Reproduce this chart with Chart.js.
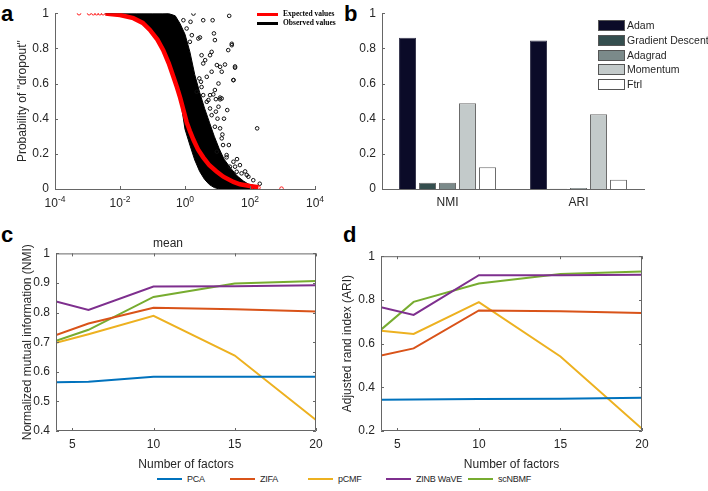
<!DOCTYPE html>
<html lang="en">
<head>
<meta charset="utf-8">
<title>dropout / optimizers / NMI / ARI</title>
<script src="https://cdn.jsdelivr.net/npm/chart.js@4.4.1/dist/chart.umd.min.js"></script>
<style>
  html, body { margin: 0; padding: 0; background: #fff; }
  body { width: 708px; height: 491px; position: relative; overflow: hidden;
         font-family: "Liberation Sans", Arial, sans-serif; color: #262626; }
  canvas { position: absolute; }
  .letra { position: absolute; font-weight: bold; font-size: 22px; line-height: 1; color: #000; }
  .leyenda-a { position: absolute; font-family: "Liberation Serif", serif; font-weight: bold;
               font-size: 7.5px; line-height: 1; color: #000; white-space: nowrap; }
  .leyenda-a span.linea { position: absolute; width: 21px; height: 3px; }
  .leyenda-b { position: absolute; font-size: 10.5px; line-height: 1; white-space: nowrap; }
  .leyenda-b span.caja { position: absolute; width: 25px; height: 9px; border: 1px solid #555; }
  .leyenda-c { position: absolute; font-size: 9px; letter-spacing: -0.25px; line-height: 1; white-space: nowrap; }
  .leyenda-c span.linea { position: absolute; width: 25px; height: 2px; }
</style>
</head>
<body>

<div class="letra" style="left:1px;top:3px">a</div>
<div class="letra" style="left:344px;top:3px">b</div>
<div class="letra" style="left:1px;top:224px">c</div>
<div class="letra" style="left:343px;top:224px">d</div>

<canvas id="chart_a" width="325" height="215" style="left:15px;top:0"></canvas>
<canvas id="chart_b" width="354" height="215" style="left:354px;top:0"></canvas>
<canvas id="chart_c" width="320" height="236" style="left:20px;top:236px"></canvas>
<canvas id="chart_d" width="320" height="229" style="left:340px;top:243px"></canvas>

<div id="leyenda_a"></div>
<div id="leyenda_b"></div>
<div id="leyenda_c"></div>

<script>
// ---- panel a: probabilidad de dropout (x en log10) ----
const ticksXa = [1e-4, 1e-2, 1, 1e2, 1e4];
const exponentesXa = ['-4', '-2', '0', '2', '4'];
const ticksYa = [0, 0.2, 0.4, 0.6, 0.8, 1];

// curva esperada (log10 de la media, probabilidad)
const esperadoLog = [-2.45, -2.31, -2.0, -1.59, -1.3, -1.08, -0.85, -0.67, -0.5, -0.36, -0.25, -0.15,
                     -0.05, 0.05, 0.15, 0.26, 0.4, 0.56, 0.75, 0.97, 1.18, 1.49, 1.69, 2.0, 2.26];
const esperadoProb = [0.998, 0.996, 0.99, 0.972, 0.945, 0.905, 0.85, 0.79, 0.715, 0.64, 0.58, 0.52,
                      0.45, 0.38, 0.33, 0.28, 0.225, 0.18, 0.135, 0.10, 0.07, 0.04, 0.027, 0.017, 0.01];
// circulos rojos sueltos
const sueltosLog = [-3.26, -2.95, -2.82, -2.72, -2.62, -2.52, 2.05, 2.26, 2.97];
const sueltosProb = [1, 1, 1, 1, 1, 1, 0.012, 0.008, 0.002];

// banda densa de valores observados: borde superior e inferior
const bandaLog = [-2.45, -2.0, -1.5, -1.0, -0.7, -0.5, -0.3, -0.15, 0.0, 0.15, 0.3, 0.45,
                  0.6, 0.75, 0.9, 1.05, 1.2, 1.4, 1.6, 1.8, 2.0, 2.15, 2.25];
const bandaSup = [0.997, 1.0, 1.0, 1.0, 1.0, 0.998, 0.985, 0.94, 0.88, 0.78, 0.65, 0.55,
                  0.46, 0.38, 0.30, 0.23, 0.17, 0.12, 0.075, 0.045, 0.022, 0.008, 0.0];
const bandaInf = [0.997, 0.99, 0.965, 0.89, 0.80, 0.715, 0.61, 0.52, 0.34, 0.25, 0.165, 0.10,
                  0.055, 0.025, 0.008, 0, 0, 0, 0, 0, 0, 0, 0];

// observados dispersos fuera de la banda
const dispersosLog = [0.26, 0.56, 0.85, 1.36, 0.17, -0.05, 0.05, 0.21, 0.41, 0.89, 0.92, 0.46, 0.15, 1.33, 1.44,
                      0.82, 0.77, 0.51, 0.62, 0.56, 0.98, 1.08, 1.23, 1.54, 1.13, 0.82, 0.67, 0.44, 0.49, 1.03,
                      1.49, 0.92, 0.77, 0.87, 0.56, 1.08, 0.67, 0.51, 0.36, 0.72, 0.95, 1.13, 1.30, 1.03, 0.77,
                      0.82, 1.08, 0.92, 1.13, 1.28, 0.98, 1.49, 1.69, 1.90, 1.59, 1.38, 2.22, 1.44, 1.54, 1.49,
                      1.08, 1.17, 1.28, 1.54, 1.74, 1.95, 1.2, 1.0, 1.35, 1.6, 1.85, 2.1, 1.15, 2.3, 0.95];
const dispersosProb = [0.998, 0.96, 0.96, 0.985, 0.951, 0.96, 0.913, 0.875, 0.856, 0.885, 0.847, 0.862, 0.837, 0.79, 0.818,
                       0.78, 0.761, 0.761, 0.733, 0.714, 0.705, 0.695, 0.708, 0.69, 0.667, 0.667, 0.638, 0.629, 0.61, 0.60,
                       0.619, 0.563, 0.534, 0.538, 0.534, 0.51, 0.496, 0.58, 0.553, 0.506, 0.511, 0.515, 0.449, 0.468, 0.458,
                       0.42, 0.345, 0.354, 0.288, 0.193, 0.212, 0.155, 0.136, 0.08, 0.098, 0.127, 0.345, 0.826, 0.697, 0.62,
                       0.52, 0.25, 0.18, 0.127, 0.089, 0.07, 0.40, 0.40, 0.25, 0.17, 0.10, 0.05, 0.31, 0.03, 0.44];

// ---- panel b: optimizadores ----
const metricas = ['NMI', 'ARI'];
const optimizadores = ['Adam', 'Gradient Descent', 'Adagrad', 'Momentum', 'Ftrl'];
const valAdam = [0.86, 0.845];
const valGradiente = [0.035, 0.001];
const valAdagrad = [0.035, 0.005];
const valMomentum = [0.488, 0.425];
const valFtrl = [0.124, 0.052];
const ticksYb = [0, 0.2, 0.4, 0.6, 0.8, 1];

// ---- paneles c y d: numero de factores ----
const factores = [4, 6, 10, 15, 20];
const ticksXcd = [5, 10, 15, 20];
const ticksYc = [0.4, 0.5, 0.6, 0.7, 0.8, 0.9, 1];
const ticksYd = [0.2, 0.4, 0.6, 0.8, 1];
const metodos = ['PCA', 'ZIFA', 'pCMF', 'ZINB WaVE', 'scNBMF'];

const nmiPCA = [0.565, 0.566, 0.583, 0.583, 0.583];
const nmiZIFA = [0.724, 0.763, 0.816, 0.811, 0.804];
const nmiPCMF = [0.698, 0.727, 0.789, 0.655, 0.437];
const nmiZINB = [0.838, 0.809, 0.888, 0.889, 0.892];
const nmiSCNBMF = [0.705, 0.742, 0.853, 0.898, 0.907];

const ariPCA = [0.343, 0.344, 0.347, 0.348, 0.352];
const ariZIFA = [0.545, 0.578, 0.752, 0.748, 0.740];
const ariPCMF = [0.659, 0.644, 0.790, 0.541, 0.210];
const ariZINB = [0.766, 0.731, 0.913, 0.913, 0.915];
const ariSCNBMF = [0.664, 0.791, 0.875, 0.918, 0.930];

const coloresMetodos = ['#0072BD', '#D95319', '#EDB120', '#7E2F8E', '#77AC30'];
const coloresOpt = ['#0b0b28', '#344e4e', '#7b8a8a', '#c3caca', '#ffffff'];

const TINTA = '#262626';
const EJE = '#666666';
const FUENTE = '"Liberation Sans", Arial, sans-serif';

Chart.defaults.font.family = FUENTE;
Chart.defaults.font.size = 12;
Chart.defaults.color = TINTA;
Chart.defaults.animation = false;

document.addEventListener('DOMContentLoaded', () => {
    graficaDropout();
    graficaOptimizadores();
    graficaFactores('chart_c', [nmiPCA, nmiZIFA, nmiPCMF, nmiZINB, nmiSCNBMF], ticksYc,
        'Normalized mutual information (NMI)', 'mean', 36, 24, 0);
    graficaFactores('chart_d', [ariPCA, ariZIFA, ariPCMF, ariZINB, ariSCNBMF], ticksYd,
        'Adjusted rand index (ARI)', null, 41, 18, 10);
    leyendas();
});

function puntos(logs, vals) {
    return logs.map((l, i) => ({ x: Math.pow(10, l), y: vals[i] }));
}

function fijarTicks(lista) {
    return s => { s.ticks = lista.map(v => ({ value: v })); };
}

const textoTick = v => String(v);

// marcas de tick hacia dentro, estilo matlab
const marcasPlugin = {
    id: 'marcas',
    afterDatasetsDraw(chart, args, opts) {
        const { ctx, chartArea: a, scales } = chart;
        ctx.save();
        ctx.strokeStyle = EJE;
        ctx.lineWidth = 1;
        ctx.beginPath();
        if (opts.caja) {
            ctx.rect(a.left + 0.5, a.top + 0.5, a.right - a.left - 1, a.bottom - a.top - 1);
        }
        if (opts.x) {
            scales.x.ticks.forEach(t => {
                const px = Math.round(scales.x.getPixelForValue(t.value)) + 0.5;
                ctx.moveTo(px, a.bottom); ctx.lineTo(px, a.bottom - 3);
                if (opts.caja) { ctx.moveTo(px, a.top); ctx.lineTo(px, a.top + 3); }
            });
        }
        if (opts.y) {
            scales.y.ticks.forEach(t => {
                const py = Math.round(scales.y.getPixelForValue(t.value)) + 0.5;
                ctx.moveTo(a.left, py); ctx.lineTo(a.left + 3, py);
                if (opts.caja) { ctx.moveTo(a.right, py); ctx.lineTo(a.right - 3, py); }
            });
        }
        ctx.stroke();
        ctx.restore();
    }
};

// etiquetas 10^n con exponente elevado
const potenciasPlugin = {
    id: 'potencias',
    afterDraw(chart) {
        const { ctx, chartArea: a, scales: { x } } = chart;
        ctx.save();
        ctx.fillStyle = TINTA;
        ctx.textBaseline = 'alphabetic';
        ctx.textAlign = 'left';
        ticksXa.forEach((v, i) => {
            const px = x.getPixelForValue(v);
            ctx.font = '12px ' + FUENTE;
            const w1 = ctx.measureText('10').width;
            ctx.font = '8.5px ' + FUENTE;
            const w2 = ctx.measureText(exponentesXa[i]).width;
            const x0 = px - (w1 + w2) / 2;
            ctx.font = '12px ' + FUENTE;
            ctx.fillText('10', x0, a.bottom + 18);
            ctx.font = '8.5px ' + FUENTE;
            ctx.fillText(exponentesXa[i], x0 + w1, a.bottom + 12.5);
        });
        ctx.restore();
    }
};

// grafica a
function graficaDropout() {
    const canvas = document.getElementById('chart_a');
    if (!canvas) return;

    new Chart(canvas, {
        type: 'scatter',
        data: {
            datasets: [
                {
                    label: 'Expected values',
                    data: puntos(esperadoLog, esperadoProb),
                    showLine: true, borderColor: '#ff0000', borderWidth: 4.5,
                    pointRadius: 0, tension: 0, order: 0
                },
                {
                    label: 'sueltos',
                    data: puntos(sueltosLog, sueltosProb),
                    pointRadius: 1.8, borderWidth: 1, borderColor: '#ff2020',
                    backgroundColor: 'rgba(0,0,0,0)', order: 1
                },
                {
                    label: 'Observed values',
                    data: puntos(dispersosLog, dispersosProb),
                    pointRadius: 1.8, borderWidth: 1, borderColor: '#111',
                    backgroundColor: 'rgba(0,0,0,0)', order: 2
                },
                {
                    label: 'banda inf',
                    data: puntos(bandaLog, bandaInf),
                    showLine: true, borderColor: '#000', borderWidth: 1,
                    pointRadius: 0, tension: 0, order: 3
                },
                {
                    label: 'banda sup',
                    data: puntos(bandaLog, bandaSup),
                    showLine: true, borderColor: '#000', borderWidth: 1,
                    pointRadius: 0, tension: 0, fill: '-1', backgroundColor: '#000', order: 4
                }
            ]
        },
        options: {
            responsive: false,
            layout: { padding: { top: 13, right: 25, bottom: 0, left: 0 } },
            plugins: { legend: { display: false }, tooltip: { enabled: false }, marcas: { x: true, y: true } },
            scales: {
                x: {
                    type: 'logarithmic', min: 1e-4, max: 1e4,
                    afterBuildTicks: fijarTicks(ticksXa),
                    afterFit: s => { s.height = 26; },
                    grid: { display: false, drawTicks: false },
                    border: { color: EJE },
                    ticks: { padding: 5, maxRotation: 0, autoSkip: false, callback: () => '' }
                },
                y: {
                    min: 0, max: 1,
                    afterBuildTicks: fijarTicks(ticksYa),
                    afterFit: s => { s.width = 40; },
                    grid: { display: false, drawTicks: false },
                    border: { color: EJE },
                    ticks: { padding: 6, callback: textoTick },
                    title: { display: true, text: 'Probability of "dropout"', padding: 0, font: { size: 12 } }
                }
            }
        },
        plugins: [marcasPlugin, potenciasPlugin]
    });
}

// grafica b
function graficaOptimizadores() {
    const canvas = document.getElementById('chart_b');
    if (!canvas) return;

    const valores = [valAdam, valGradiente, valAdagrad, valMomentum, valFtrl];
    new Chart(canvas, {
        type: 'bar',
        data: {
            labels: metricas,
            datasets: optimizadores.map((nombre, i) => ({
                label: nombre,
                data: valores[i],
                backgroundColor: coloresOpt[i],
                borderColor: i === 0 ? '#3a3a50' : '#6a6a6a',
                borderWidth: 1,
                categoryPercentage: 0.763,
                barPercentage: 0.85
            }))
        },
        options: {
            responsive: false,
            layout: { padding: { top: 13, right: 64, bottom: 0, left: 0 } },
            plugins: { legend: { display: false }, tooltip: { enabled: false }, marcas: { y: true } },
            scales: {
                x: {
                    afterFit: s => { s.height = 26; },
                    grid: { display: false, drawTicks: false },
                    border: { color: EJE },
                    ticks: { padding: 6 }
                },
                y: {
                    min: 0, max: 1,
                    afterBuildTicks: fijarTicks(ticksYb),
                    afterFit: s => { s.width = 28; },
                    grid: { display: false, drawTicks: false },
                    border: { color: EJE },
                    ticks: { padding: 6, callback: textoTick }
                }
            }
        },
        plugins: [marcasPlugin]
    });
}

// graficas c y d
function graficaFactores(id, series, ticksY, tituloY, titulo, anchoY, derecha, arriba) {
    const canvas = document.getElementById(id);
    if (!canvas) return;

    new Chart(canvas, {
        type: 'line',
        data: {
            labels: factores,
            datasets: metodos.map((nombre, i) => ({
                label: nombre,
                data: factores.map((f, j) => ({ x: f, y: series[i][j] })),
                borderColor: coloresMetodos[i],
                borderWidth: 2,
                pointRadius: 0,
                tension: 0
            }))
        },
        options: {
            responsive: false,
            layout: { padding: { top: arriba, right: derecha, bottom: 0, left: 0 } },
            plugins: {
                legend: { display: false },
                tooltip: { enabled: false },
                title: {
                    display: !!titulo, text: titulo || '',
                    font: { size: 12, weight: 'normal' }, color: TINTA,
                    padding: { top: 0, bottom: 3 }
                },
                marcas: { x: true, y: true, caja: true }
            },
            scales: {
                x: {
                    type: 'linear', min: 4, max: 20,
                    afterBuildTicks: fijarTicks(ticksXcd),
                    afterFit: s => { s.height = 41; },
                    grid: { display: false, drawTicks: false },
                    border: { display: false },
                    ticks: { padding: 6, maxRotation: 0, callback: textoTick },
                    title: { display: true, text: 'Number of factors', padding: 0, font: { size: 12 } }
                },
                y: {
                    min: ticksY[0], max: ticksY[ticksY.length - 1],
                    afterBuildTicks: fijarTicks(ticksY),
                    afterFit: s => { s.width = anchoY; },
                    grid: { display: false, drawTicks: false },
                    border: { display: false },
                    ticks: { padding: 6, callback: textoTick },
                    title: { display: true, text: tituloY, padding: 0, font: { size: 12 } }
                }
            }
        },
        plugins: [marcasPlugin]
    });
}

// leyendas en html
function leyendas() {
    // panel a
    const la = document.getElementById('leyenda_a');
    [['Expected values', '#ff0000', 10], ['Observed values', '#000000', 19]].forEach(([txt, col, y]) => {
        const d = document.createElement('div');
        d.className = 'leyenda-a';
        d.style.left = '257px';
        d.style.top = y + 'px';
        d.innerHTML = `<span class="linea" style="left:0;top:3px;background:${col}"></span>` +
                      `<span style="position:absolute;left:26px;top:0">${txt}</span>`;
        la.appendChild(d);
    });

    // panel b
    const lb = document.getElementById('leyenda_b');
    optimizadores.forEach((nombre, i) => {
        const d = document.createElement('div');
        d.className = 'leyenda-b';
        d.style.left = '598px';
        d.style.top = (20 + i * 14.8) + 'px';
        d.innerHTML = `<span class="caja" style="left:0;top:0;background:${coloresOpt[i]}"></span>` +
                      `<span style="position:absolute;left:29px;top:0">${nombre}</span>`;
        lb.appendChild(d);
    });

    // paneles c y d
    const lc = document.getElementById('leyenda_c');
    const xs = [157, 230, 308, 386, 468];
    metodos.forEach((nombre, i) => {
        const d = document.createElement('div');
        d.className = 'leyenda-c';
        d.style.left = xs[i] + 'px';
        d.style.top = '475px';
        d.innerHTML = `<span class="linea" style="left:0;top:3px;background:${coloresMetodos[i]}"></span>` +
                      `<span style="position:absolute;left:30px;top:0">${nombre}</span>`;
        lc.appendChild(d);
    });
}
</script>
</body>
</html>
